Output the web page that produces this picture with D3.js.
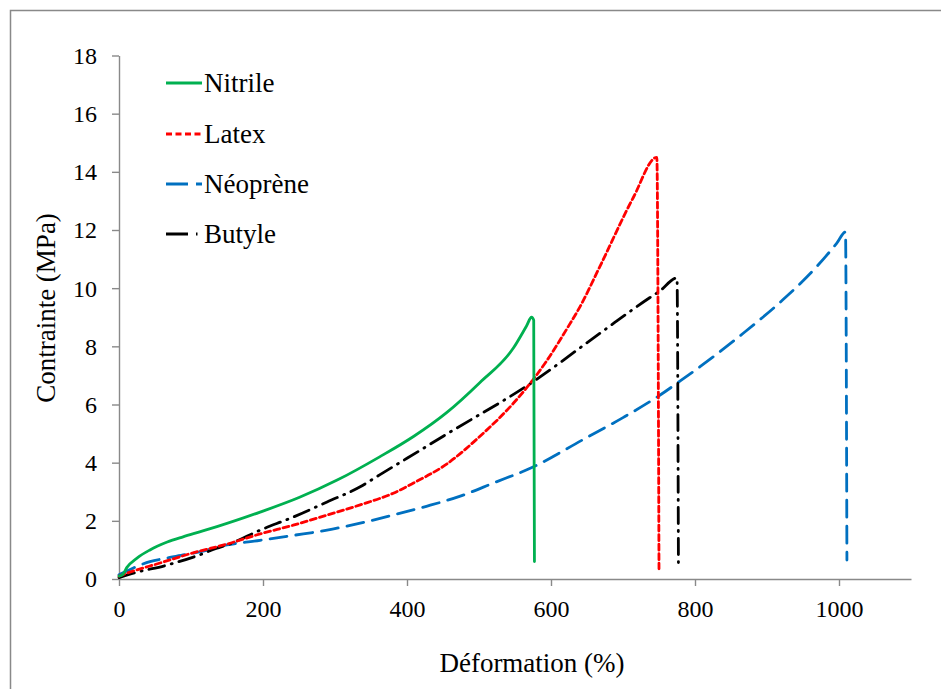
<!DOCTYPE html>
<html>
<head>
<meta charset="utf-8">
<script src="https://cdn.jsdelivr.net/npm/d3@7/dist/d3.min.js"></script>
<style>
  html, body { margin: 0; padding: 0; background: #fff; }
  svg { display: block; }
  svg text { font-family: "Liberation Serif", "Tinos", "Times New Roman", "DejaVu Serif", serif !important; fill: #000; }
</style>
</head>
<body>
<svg id="chart" width="941" height="689"></svg>
<script>
// ---- data ----
const seriesNames = ["Nitrile", "Latex", "Néoprène", "Butyle"];

const nitrileStrain = [0, 5, 11, 25, 43, 67, 89, 112, 136, 196, 250, 303, 362, 409, 455, 501, 548, 566, 573, 576, 577];
const nitrileStress = [0.1, 0.15, 0.4, 0.72, 1.0, 1.27, 1.45, 1.62, 1.8, 2.3, 2.8, 3.4, 4.2, 4.9, 5.72, 6.75, 7.95, 8.7, 9.0, 8.9, 0.6];

const latexStrain = [0, 11, 57, 103, 150, 196, 242, 289, 335, 381, 409, 455, 501, 548, 575, 594, 622, 640, 668, 714, 747, 750];
const latexStress = [0.1, 0.2, 0.55, 0.9, 1.2, 1.55, 1.85, 2.2, 2.55, 2.95, 3.3, 3.95, 4.9, 6.05, 6.85, 7.5, 8.6, 9.35, 10.75, 13.1, 14.5, 0.35];

const neopreneStrain = [0, 20, 43, 67, 89, 112, 150, 196, 242, 289, 335, 381, 427, 474, 520, 575, 645, 700, 750, 779, 807, 867, 922, 969, 997, 1009, 1011];
const neopreneStress = [0.15, 0.38, 0.6, 0.72, 0.83, 0.93, 1.17, 1.33, 1.5, 1.68, 1.92, 2.2, 2.5, 2.85, 3.3, 3.85, 4.8, 5.55, 6.3, 6.8, 7.3, 8.45, 9.6, 10.74, 11.55, 11.93, 0.65];

const butyleStrain = [0, 20, 67, 112, 136, 150, 196, 242, 289, 335, 362, 400, 455, 575, 668, 737, 751, 775, 777];
const butyleStress = [0.05, 0.2, 0.48, 0.83, 1.06, 1.17, 1.68, 2.13, 2.65, 3.17, 3.58, 4.15, 4.98, 6.78, 8.45, 9.67, 9.9, 10.35, 0.38];

const xTicks = [0, 200, 400, 600, 800, 1000];
const yTicks = [0, 2, 4, 6, 8, 10, 12, 14, 16, 18];
const xTitle = "Déformation (%)";
const yTitle = "Contrainte (MPa)";

// ---- setup ----
const svg = d3.select("#chart");
const axisColor = "#898989";

svg.append("rect")
  .attr("x", 10.5).attr("y", 10.5)
  .attr("width", 1000).attr("height", 1000)
  .attr("fill", "none").attr("stroke", axisColor).attr("stroke-width", 1.5);

const x = d3.scaleLinear().domain([0, 1100]).range([119, 911]);
const y = d3.scaleLinear().domain([0, 18]).range([579, 55.5]);

// axes
const xAxis = svg.append("g").attr("transform", `translate(0,${y(0)})`)
  .call(d3.axisBottom(x).tickValues(xTicks).tickSize(7).tickSizeOuter(0).tickFormat(d3.format("d")));
const yAxis = svg.append("g").attr("transform", `translate(${x(0)},0)`)
  .call(d3.axisLeft(y).tickValues(yTicks).tickSize(7).tickSizeOuter(0).tickFormat(d3.format("d")));

[xAxis, yAxis].forEach(g => {
  g.attr("font-family", null);
  g.select(".domain").attr("stroke", axisColor).attr("stroke-width", 1.4);
  g.selectAll(".tick line").attr("stroke", axisColor).attr("stroke-width", 1.4);
  g.selectAll(".tick text")
    .attr("font-size", 24).attr("fill", "#000");
});
xAxis.selectAll(".tick text").attr("y", 0).attr("dy", 0)
  .attr("transform", "translate(0,38)");
yAxis.selectAll(".tick text").attr("x", -22).attr("dy", "0.33em");

// axis titles
svg.append("text")
  .attr("x", 532).attr("y", 672)
  .attr("text-anchor", "middle").attr("font-size", 27)
  .text(xTitle);
svg.append("text")
  .attr("transform", "translate(55,308) rotate(-90)")
  .attr("text-anchor", "middle").attr("font-size", 27)
  .text(yTitle);

// series
const styles = [
  { color: "#00b050", dash: null },
  { color: "#ff0000", dash: "6,3.5" },
  { color: "#0070c0", dash: "17,9" },
  { color: "#000000", dash: "16,7,1,7" }
];
const seriesData = [
  d3.zip(nitrileStrain, nitrileStress),
  d3.zip(latexStrain, latexStress),
  d3.zip(neopreneStrain, neopreneStress),
  d3.zip(butyleStrain, butyleStress)
];

const line = d3.line()
  .x(d => x(d[0])).y(d => y(d[1]))
  .curve(d3.curveMonotoneX);

const drawOrder = [2, 3, 1, 0];
drawOrder.forEach(i => {
  const p = svg.append("path")
    .datum(seriesData[i])
    .attr("d", line)
    .attr("fill", "none")
    .attr("stroke", styles[i].color)
    .attr("stroke-width", 2.8)
    .attr("stroke-linejoin", "round")
    .attr("stroke-linecap", "round");
  if (styles[i].dash) p.attr("stroke-dasharray", styles[i].dash);
});

// legend
const legendRows = [83, 134, 184, 234];
seriesNames.forEach((name, i) => {
  const g = svg.append("g");
  const l = g.append("line")
    .attr("x1", 166).attr("x2", 202)
    .attr("y1", legendRows[i]).attr("y2", legendRows[i])
    .attr("stroke", styles[i].color).attr("stroke-width", 2.8)
    .attr("stroke-linecap", "butt");
  if (styles[i].dash) l.attr("stroke-dasharray", i === 1 ? "6,3.5" : (i === 2 ? "22,8" : "22,8,1.5,8"));
  g.append("text")
    .attr("x", 204).attr("y", legendRows[i] + 9)
    .attr("font-size", 27)
    .text(name);
});
</script>
</body>
</html>
